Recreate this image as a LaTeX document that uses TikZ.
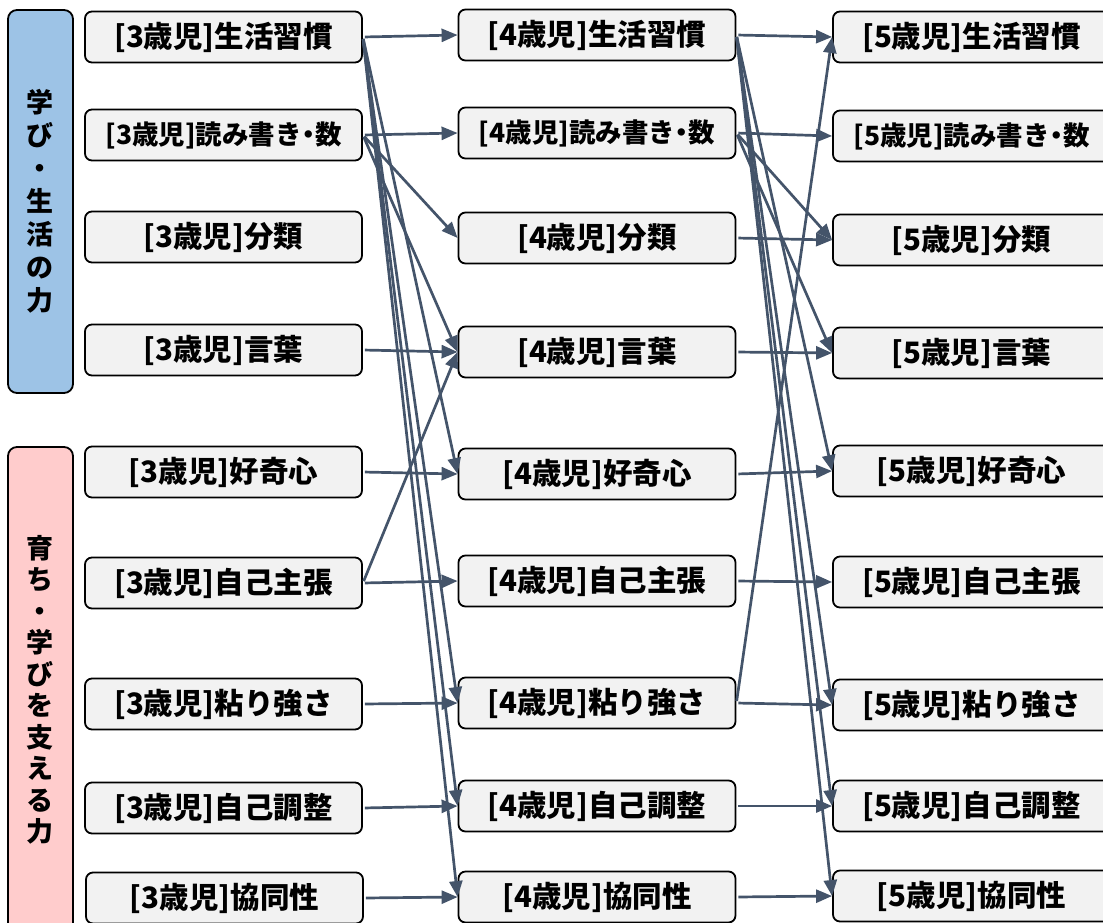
\documentclass[tikz,border=0pt]{standalone}
\usepackage{fontspec}
\setmainfont{Noto Sans CJK JP}
\usetikzlibrary{arrows.meta}
\definecolor{arr}{HTML}{44546A}
\definecolor{boxfill}{HTML}{F2F2F2}
\definecolor{bluebar}{HTML}{9DC3E6}
\definecolor{pinkbar}{HTML}{FFCCCC}
\newcommand{\tdot}{\kern-.25em・\kern-.25em}
\begin{document}
\begin{tikzpicture}[x=1pt,y=-1pt,
 box/.style={draw=black, line width=1.8pt, fill=boxfill, rounded corners=7pt, minimum width=277pt, minimum height=51pt, inner sep=0pt, font=\fontsize{29.5pt}{32pt}\selectfont\bfseries},
 small/.style={font=\fontsize{26.5pt}{30pt}\selectfont\bfseries},
 conn/.style={draw=arr, line width=2.7pt, -{Triangle[length=16pt,width=13pt]}, shorten <=2pt},
 bar/.style={draw=black, line width=1.8pt, rounded corners=9pt},
 vtext/.style={align=center, inner sep=0pt, font=\fontsize{27pt}{31.5pt}\selectfont\bfseries}
]
\useasboundingbox (0,0) rectangle (1103,922);
\clip (0,0) rectangle (1103,922);
% side bars
\path[bar, fill=bluebar] (8,10) rectangle (73,393);
\path[bar, fill=pinkbar] (8,447) rectangle (73,940);
\node[vtext, font=\fontsize{27pt}{33pt}\selectfont\bfseries] (lab1) at (40.5,201) {学\\び\\・\\生\\活\\の\\力};
\node[vtext] (lab2) at (40.5,690) {育\\ち\\・\\学\\び\\を\\支\\え\\る\\力};
% column 1
\node[box] (a1) at (223.5,37) {[3歳児]生活習慣};
\node[box, small] (a2) at (223.5,135) {[3歳児]読み書き\tdot 数};
\node[box] (a3) at (223.5,237) {[3歳児]分類};
\node[box] (a4) at (223.5,350) {[3歳児]言葉};
\node[box] (a5) at (223.5,472) {[3歳児]好奇心};
\node[box] (a6) at (223.5,583) {[3歳児]自己主張};
\node[box] (a7) at (223.5,704) {[3歳児]粘り強さ};
\node[box] (a8) at (223.5,808) {[3歳児]自己調整};
\node[box] (a9) at (224.5,898) {[3歳児]協同性};
% column 2
\node[box] (b1) at (597,35) {[4歳児]生活習慣};
\node[box, small] (b2) at (597,133) {[4歳児]読み書き\tdot 数};
\node[box] (b3) at (597,238) {[4歳児]分類};
\node[box] (b4) at (597,352) {[4歳児]言葉};
\node[box] (b5) at (597,474) {[4歳児]好奇心};
\node[box] (b6) at (597,581) {[4歳児]自己主張};
\node[box] (b7) at (597,703) {[4歳児]粘り強さ};
\node[box] (b8) at (597,806) {[4歳児]自己調整};
\node[box] (b9) at (597,897) {[4歳児]協同性};
% column 3
\node[box] (c1) at (971.5,37) {[5歳児]生活習慣};
\node[box, small] (c2) at (971.5,136) {[5歳児]読み書き\tdot 数};
\node[box] (c3) at (971.5,240) {[5歳児]分類};
\node[box] (c4) at (971.5,353) {[5歳児]言葉};
\node[box] (c5) at (971.5,471) {[5歳児]好奇心};
\node[box] (c6) at (971.5,582) {[5歳児]自己主張};
\node[box] (c7) at (971.5,705) {[5歳児]粘り強さ};
\node[box] (c8) at (971.5,806) {[5歳児]自己調整};
\node[box] (c9) at (971.5,896) {[5歳児]協同性};
% stage 1
\foreach \s/\t in {a1/b1,a1/b5,a1/b7,a1/b8,a1/b9,a2/b2,a2/b3,a2/b4,a4/b4,a5/b5,a6/b4,a6/b6,a7/b7,a8/b8,a9/b9}
  \draw[conn] (\s.east) -- (\t.west);
% stage 2
\foreach \s/\t in {b1/c1,b1/c5,b1/c7,b1/c8,b1/c9,b2/c2,b2/c3,b2/c4,b3/c3,b4/c4,b5/c5,b6/c6,b7/c1,b7/c7,b8/c8,b9/c9}
  \draw[conn] (\s.east) -- (\t.west);
\end{tikzpicture}
\end{document}
